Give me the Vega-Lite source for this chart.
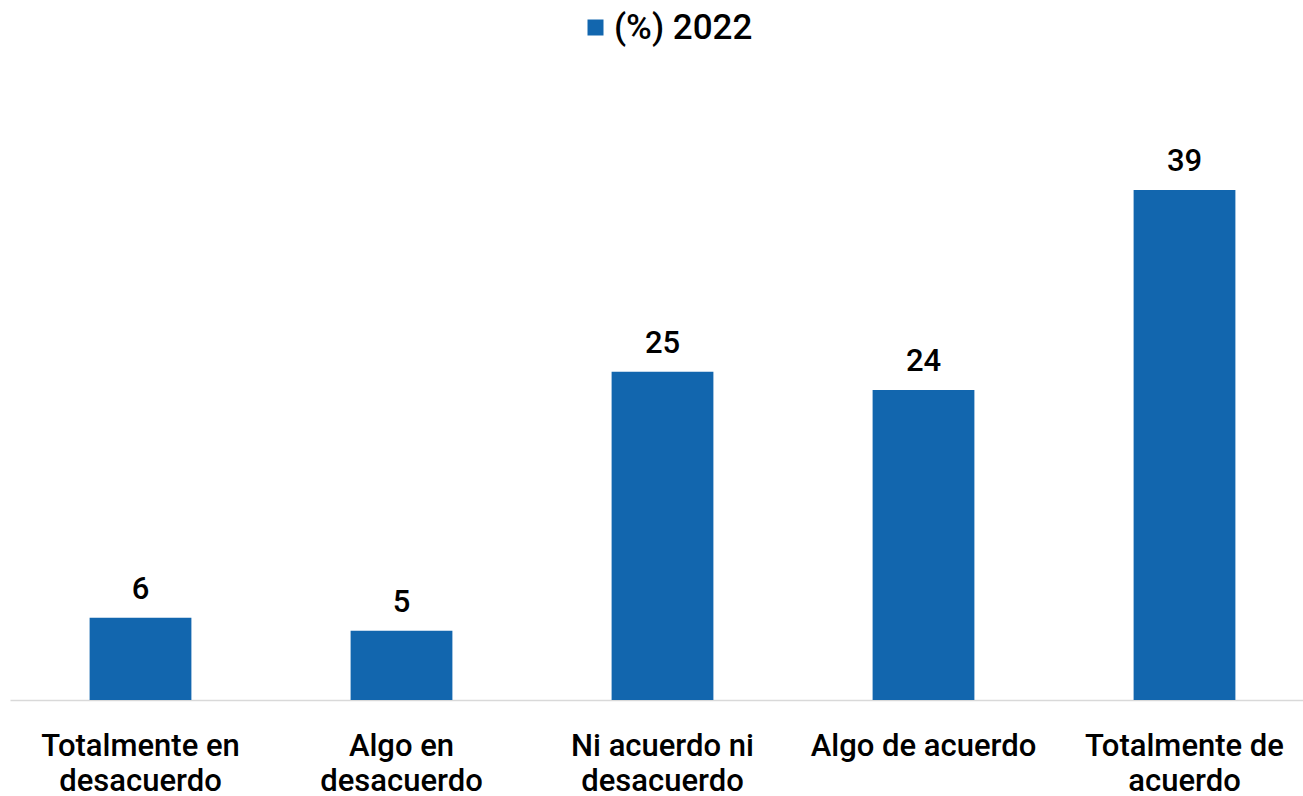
{
  "$schema": "https://vega.github.io/schema/vega-lite/v6.json",
  "autosize": {"type": "none"},
  "width": 1305,
  "height": 523,
  "padding": {"left": 10, "top": 177, "right": 0, "bottom": 96},
  "background": "white",
  "config": {"view": {"stroke": null}, "font": "Roboto"},
  "data": {"values": [
    {"categoria": "Totalmente en desacuerdo", "serie": "(%) 2022", "valor": 6.3},
    {"categoria": "Algo en desacuerdo", "serie": "(%) 2022", "valor": 5.3},
    {"categoria": "Ni acuerdo ni desacuerdo", "serie": "(%) 2022", "valor": 25.1},
    {"categoria": "Algo de acuerdo", "serie": "(%) 2022", "valor": 23.7},
    {"categoria": "Totalmente de acuerdo", "serie": "(%) 2022", "valor": 39.0}
  ]},
  "encoding": {
    "x": {
      "field": "categoria", "type": "nominal", "sort": null,
      "scale": {"paddingInner": 0.61, "paddingOuter": 0.305},
      "axis": {
        "title": null, "ticks": false, "domainColor": "#D9D9D9", "domainWidth": 1.5,
        "labelAngle": 0, "labelFontSize": 31, "labelFontWeight": 500, "labelColor": "#000000",
        "labelPadding": 55, "labelLineHeight": 35, "labelBaseline": "alphabetic", "labelLimit": 0,
        "labelExpr": "datum.value == 'Totalmente en desacuerdo' ? ['Totalmente en', 'desacuerdo'] : datum.value == 'Algo en desacuerdo' ? ['Algo en', 'desacuerdo'] : datum.value == 'Ni acuerdo ni desacuerdo' ? ['Ni acuerdo ni', 'desacuerdo'] : datum.value == 'Totalmente de acuerdo' ? ['Totalmente de', 'acuerdo'] : datum.value"
      }
    },
    "y": {
      "field": "valor", "type": "quantitative",
      "scale": {"domain": [0, 40], "nice": false},
      "axis": null
    }
  },
  "layer": [
    {
      "mark": {"type": "bar"},
      "encoding": {
        "color": {
          "field": "serie", "type": "nominal",
          "scale": {"range": ["#1266AE"]},
          "legend": {
            "title": null, "orient": "none", "legendX": 558, "legendY": -177,
            "direction": "horizontal",
            "symbolType": "square", "symbolSize": 256, "symbolStrokeWidth": 0,
            "labelFontSize": 35, "labelFontWeight": 500, "labelColor": "#000000",
            "labelOffset": 1, "padding": 10
          }
        }
      }
    },
    {
      "mark": {"type": "text", "baseline": "alphabetic", "dy": -19, "fontSize": 31, "fontWeight": 500, "color": "#000000"},
      "encoding": {
        "text": {"field": "valor", "type": "quantitative", "format": ".0f"}
      }
    }
  ]
}
